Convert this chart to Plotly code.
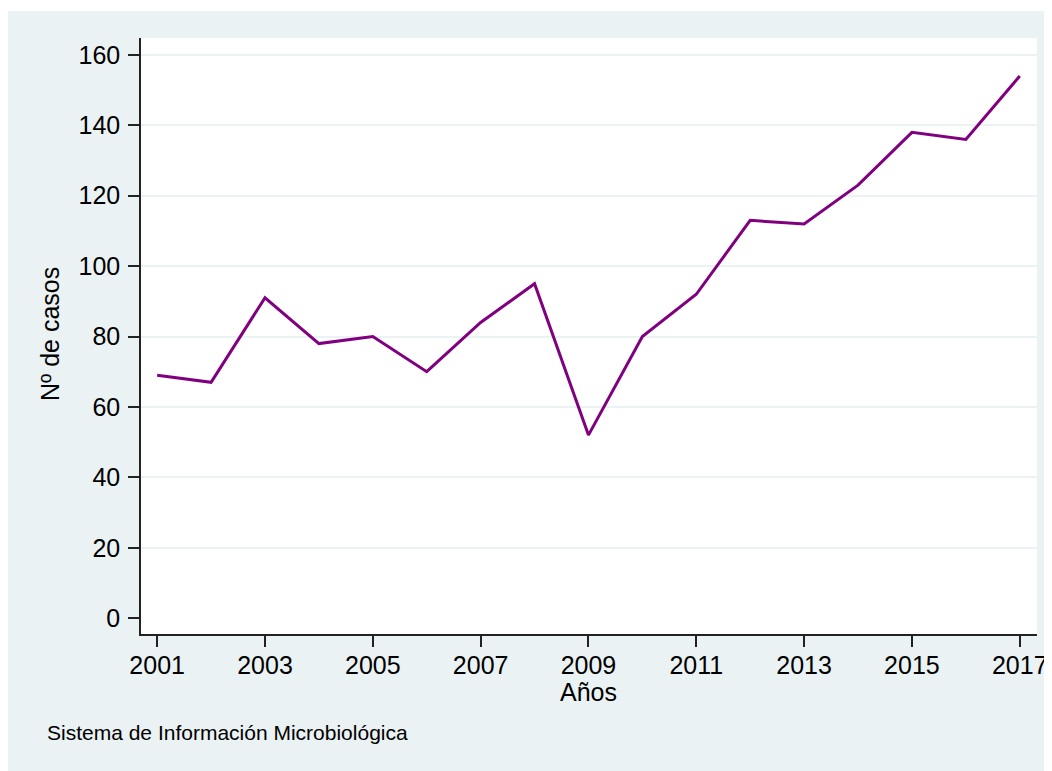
import plotly.graph_objects as go

years = [2001, 2002, 2003, 2004, 2005, 2006, 2007, 2008, 2009, 2010,
         2011, 2012, 2013, 2014, 2015, 2016, 2017]
cases = [69, 67, 91, 78, 80, 70, 84, 95, 52, 80,
         92, 113, 112, 123, 138, 136, 154]
x_ticks = [2001, 2003, 2005, 2007, 2009, 2011, 2013, 2015, 2017]
y_ticks = [0, 20, 40, 60, 80, 100, 120, 140, 160]
y_grid = [20, 40, 60, 80, 100, 120, 140, 160]
x_title = "Años"
y_title = "Nº de casos"
note = "Sistema de Información Microbiológica"

OFF = 8  # page body margin
W, H = 1044, 763
L, R, T, B = 141 - OFF, 1037 - OFF, 38 - OFF, 634 - OFF  # plot box (figure px)
pw, ph = R - L, B - T
BG = "#EAF2F3"
FONT = "Liberation Sans, Arial, sans-serif"


def px(x):
    # x given in screenshot pixels
    return (x - OFF - L) / pw


def py(y):
    return (B - (y - OFF)) / ph


fig = go.Figure()
# invisible trace so the labelled axis renders
fig.add_trace(go.Scatter(x=[None], y=[None], yaxis="y", mode="lines",
                         showlegend=False, hoverinfo="skip"))
fig.add_trace(go.Scatter(x=years, y=cases, yaxis="y2", mode="lines",
                         line=dict(color="#800080", width=3),
                         showlegend=False))

yr = [-4.5, 164.8]
fig.update_layout(
    width=W, height=H,
    margin=dict(l=L, r=W - R, t=T, b=H - B, autoexpand=False),
    paper_bgcolor=BG,
    plot_bgcolor="white",
    font=dict(family=FONT, color="black", size=25),
    showlegend=False,
    xaxis=dict(
        range=[2000.70, 2017.32], tickmode="array", tickvals=x_ticks,
        ticks="outside", ticklen=11, tickwidth=1.5, tickcolor="#222",
        showline=True, linecolor="#222", linewidth=1.5,
        showgrid=False, zeroline=False, tickfont=dict(size=25),
        ticklabelstandoff=-3,
    ),
    yaxis=dict(
        range=yr, tickmode="array", tickvals=y_ticks,
        ticks="outside", ticklen=11, tickwidth=1.5, tickcolor="#222",
        showline=True, linecolor="#222", linewidth=1.5,
        showgrid=False, zeroline=False, tickfont=dict(size=25),
        ticklabelstandoff=3,
    ),
    yaxis2=dict(
        range=yr, overlaying="y", tickmode="array", tickvals=y_grid,
        showticklabels=False, ticks="", showline=False,
        showgrid=True, gridcolor=BG, gridwidth=2, zeroline=False,
    ),
    shapes=[
        dict(type="rect", xref="paper", yref="paper", layer="below",
             x0=px(0), x1=px(1100), y0=py(11), y1=py(0),
             fillcolor="white", line=dict(width=0)),
    ],
    annotations=[
        dict(text=x_title, xref="paper", yref="paper", x=px(588), y=py(692),
             xanchor="center", yanchor="middle", showarrow=False,
             font=dict(size=25)),
        dict(text=y_title, xref="paper", yref="paper", x=px(50), y=py(334),
             xanchor="center", yanchor="middle", showarrow=False,
             textangle=-90, font=dict(size=25)),
        dict(text=note, xref="paper", yref="paper", x=px(45), y=py(732),
             xanchor="left", yanchor="middle", showarrow=False,
             font=dict(size=21)),
    ],
)

fig.write_html("out.html", config={"displayModeBar": False})
